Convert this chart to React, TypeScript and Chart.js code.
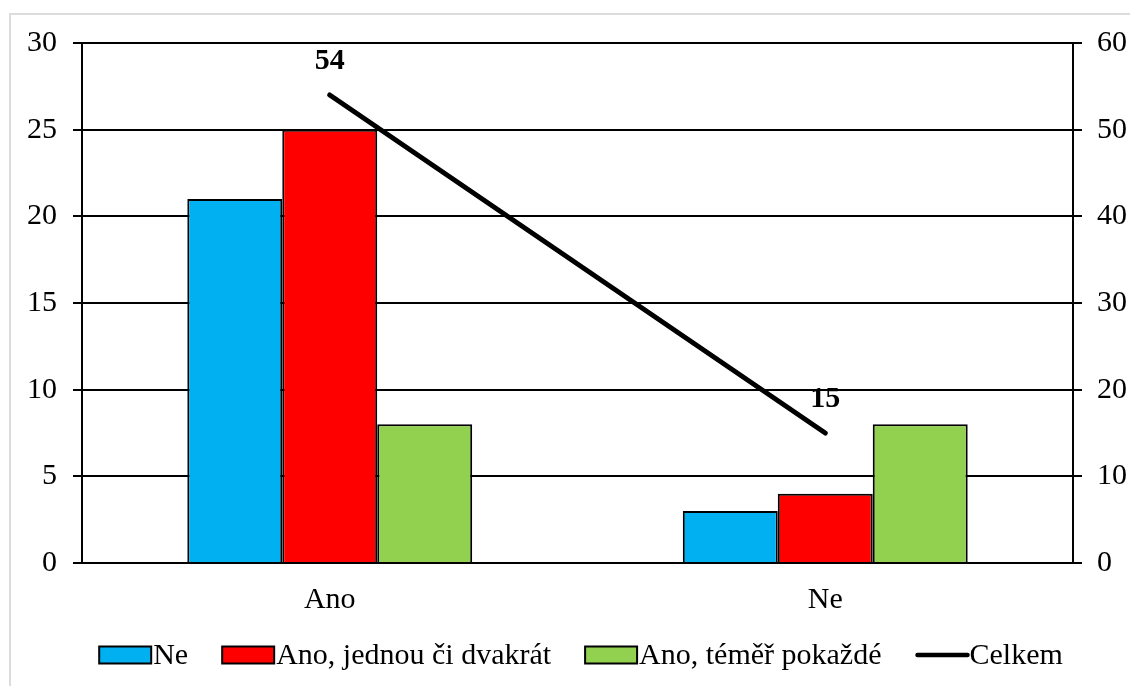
import React, { useEffect, useRef } from "react";
import { Chart, registerables } from "chart.js";

Chart.register(...registerables);

const categories = ["Ano", "Ne"];
const seriesNe = [21, 3];
const seriesJednou = [25, 4];
const seriesPokazde = [8, 8];
const seriesCelkem = [54, 15];
const seriesNames = ["Ne", "Ano, jednou či dvakrát", "Ano, téměř pokaždé", "Celkem"];
const seriesColors = ["#00B0F0", "#FF0000", "#92D050", "#000000"];

const FONT = "'Liberation Serif', 'Times New Roman', serif";
const FS = 30;

const overlayPlugin = {
  id: "overlay",
  afterDraw(chart: any) {
    const ctx = chart.ctx;
    const meta = chart.getDatasetMeta(0);
    ctx.save();
    ctx.font = `bold ${FS}px ${FONT}`;
    ctx.fillStyle = "#000";
    ctx.textAlign = "center";
    ctx.textBaseline = "middle";
    meta.data.forEach((pt: any, i: number) => {
      ctx.fillText(String(seriesCelkem[i]), pt.x, pt.y - 34);
    });
    // legend
    ctx.font = `${FS}px ${FONT}`;
    const boxW = 52;
    const boxH = 17;
    const gapText = 2;
    const gapItem = 34;
    const widths = seriesNames.map((n) => ctx.measureText(n).width);
    const total =
      widths.reduce((a, b) => a + b, 0) + seriesNames.length * (boxW + gapText) + (seriesNames.length - 1) * gapItem;
    let x = 581 - total / 2;
    const yc = 655;
    ctx.textAlign = "left";
    seriesNames.forEach((name, i) => {
      if (i < 3) {
        ctx.fillStyle = seriesColors[i];
        ctx.fillRect(x, yc - boxH / 2, boxW, boxH);
        ctx.strokeStyle = "#000";
        ctx.lineWidth = 2;
        ctx.strokeRect(x, yc - boxH / 2, boxW, boxH);
      } else {
        ctx.strokeStyle = "#000";
        ctx.lineWidth = 4.5;
        ctx.lineCap = "round";
        ctx.beginPath();
        ctx.moveTo(x + 2, yc);
        ctx.lineTo(x + boxW, yc);
        ctx.stroke();
      }
      ctx.fillStyle = "#000";
      ctx.fillText(name, x + boxW + gapText, yc + 1);
      x += boxW + gapText + widths[i] + gapItem;
    });
    ctx.restore();
  },
};

export default function App() {
  const ref = useRef<HTMLCanvasElement>(null);
  useEffect(() => {
    if (!ref.current) return;
    Chart.defaults.font.family = FONT;
    Chart.defaults.color = "#000";
    const chart = new Chart(ref.current, {
      type: "bar",
      data: {
        labels: categories,
        datasets: [
          {
            type: "line",
            label: seriesNames[3],
            data: seriesCelkem,
            yAxisID: "y1",
            borderColor: seriesColors[3],
            backgroundColor: seriesColors[3],
            borderWidth: 5,
            borderCapStyle: "round",
            pointRadius: 0,
            order: 0,
          } as any,
          {
            label: seriesNames[0],
            data: seriesNe,
            backgroundColor: seriesColors[0],
            borderColor: "#000",
            borderWidth: 2,
            yAxisID: "y",
            order: 1,
          },
          {
            label: seriesNames[1],
            data: seriesJednou,
            backgroundColor: seriesColors[1],
            borderColor: "#000",
            borderWidth: 2,
            yAxisID: "y",
            order: 1,
          },
          {
            label: seriesNames[2],
            data: seriesPokazde,
            backgroundColor: seriesColors[2],
            borderColor: "#000",
            borderWidth: 2,
            yAxisID: "y",
            order: 1,
          },
        ],
      },
      options: {
        animation: false,
        responsive: false,
        maintainAspectRatio: false,
        layout: { padding: { top: 43, left: 0, right: 0, bottom: 0 } },
        datasets: { bar: { categoryPercentage: 0.575, barPercentage: 1 } },
        plugins: { legend: { display: false }, tooltip: { enabled: false } },
        scales: {
          x: {
            grid: { display: false, drawTicks: false },
            border: { display: true, color: "#000", width: 2 },
            ticks: { font: { size: FS }, padding: 19, color: "#000" },
            afterFit: (s: any) => {
              s.height = 123;
            },
          },
          y: {
            position: "left",
            min: 0,
            max: 30,
            ticks: { stepSize: 5, font: { size: FS }, padding: 16, color: "#000" },
            grid: { color: "#000", lineWidth: 2, tickLength: 9 },
            border: { display: true, color: "#000", width: 2 },
            afterFit: (s: any) => {
              s.width = 82;
            },
          },
          y1: {
            position: "right",
            min: 0,
            max: 60,
            ticks: { stepSize: 10, font: { size: FS }, padding: 15, color: "#000" },
            grid: { drawOnChartArea: false, color: "#000", lineWidth: 2, tickLength: 9 },
            border: { display: true, color: "#000", width: 2 },
            afterFit: (s: any) => {
              s.width = 57;
            },
          },
        },
      } as any,
      plugins: [overlayPlugin],
    });
    return () => chart.destroy();
  }, []);

  return (
    <div style={{ position: "absolute", left: 0, top: 0, width: 1130, height: 686, background: "#fff", overflow: "hidden" }}>
      <div
        style={{
          position: "absolute",
          left: 9,
          top: 13,
          width: 1121,
          height: 673,
          boxSizing: "border-box",
          borderLeft: "2px solid #dcdcdc",
          borderTop: "2px solid #dcdcdc",
        }}
      />
      <canvas ref={ref} width={1130} height={686} style={{ position: "absolute", left: 0, top: 0, width: 1130, height: 686 }} />
    </div>
  );
}
